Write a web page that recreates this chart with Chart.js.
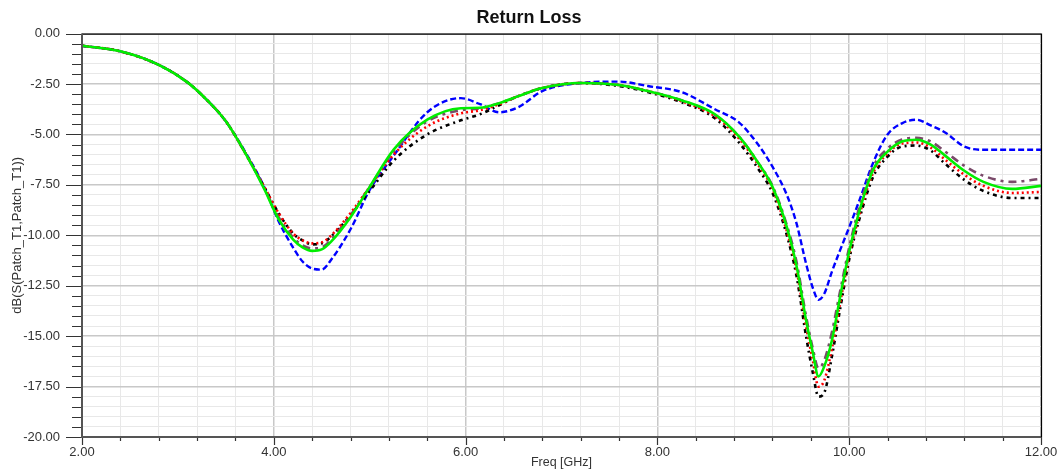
<!DOCTYPE html>
<html>
<head>
<meta charset="utf-8">
<script src="https://cdn.jsdelivr.net/npm/chart.js@4"></script>
<style>
  html, body { margin: 0; padding: 0; background: #fff; }
  #wrap { width: 1058px; height: 470px; }
</style>
</head>
<body>
<div id="wrap"><canvas id="chart" width="1058" height="470"></canvas></div>
<script>
// #### Data
const freq = [2.0, 2.4, 2.8, 3.1, 3.3, 3.5, 3.7, 3.9, 4.05, 4.2, 4.3, 4.4, 4.5, 4.6, 4.8, 5.0, 5.25, 5.6, 5.95, 6.15,
  6.35, 6.55, 6.8, 7.2, 7.6, 7.9, 8.25, 8.6, 8.85, 9.05, 9.2, 9.35, 9.45, 9.55, 9.62, 9.68, 9.74, 9.82, 9.9, 10.0,
  10.1, 10.25, 10.4, 10.55, 10.7, 10.85, 11.0, 11.2, 11.4, 11.7, 12.0];

const greenLoss = [-0.6, -0.88, -1.55, -2.42, -3.28, -4.35, -5.9, -7.7, -9.2, -10.2, -10.6, -10.77, -10.7, -10.3, -9.1, -7.6, -5.75, -4.27, -3.7, -3.68,
  -3.45, -3.1, -2.7, -2.45, -2.55, -2.85, -3.3, -4.0, -5.1, -6.4, -7.6, -9.6, -11.5, -14.2, -15.8, -17.0, -16.5, -15.2, -13.2, -10.8,
  -8.9, -6.75, -5.85, -5.35, -5.26, -5.5, -6.05, -6.8, -7.35, -7.7, -7.55];

const redLoss = [-0.6, -0.88, -1.55, -2.42, -3.28, -4.35, -5.9, -7.6, -8.9, -9.9, -10.25, -10.4, -10.35, -10.0, -8.9, -7.6, -6.0, -4.6, -3.95, -3.8,
  -3.5, -3.1, -2.7, -2.45, -2.55, -2.85, -3.35, -4.1, -5.2, -6.5, -7.7, -9.8, -11.7, -14.5, -16.2, -17.5, -17.2, -15.6, -13.5, -11.0,
  -9.1, -6.9, -5.95, -5.45, -5.4, -5.65, -6.25, -7.0, -7.55, -7.9, -7.85];

const purpleLoss = [-0.6, -0.88, -1.55, -2.42, -3.28, -4.35, -5.9, -7.65, -9.1, -10.1, -10.5, -10.65, -10.6, -10.2, -9.0, -7.6, -5.85, -4.35, -3.8, -3.7,
  -3.45, -3.1, -2.7, -2.45, -2.55, -2.85, -3.3, -4.05, -5.1, -6.4, -7.55, -9.5, -11.3, -14.0, -15.6, -16.6, -16.2, -14.8, -12.9, -10.6,
  -8.7, -6.6, -5.7, -5.25, -5.17, -5.35, -5.85, -6.55, -7.05, -7.35, -7.2];

const blackLoss = [-0.6, -0.88, -1.55, -2.42, -3.28, -4.35, -5.9, -7.6, -8.9, -9.9, -10.25, -10.45, -10.4, -10.05, -9.0, -7.8, -6.3, -5.0, -4.3, -4.0,
  -3.55, -3.1, -2.7, -2.45, -2.6, -2.9, -3.4, -4.2, -5.4, -6.7, -7.9, -10.0, -12.0, -15.0, -16.8, -18.0, -17.8, -16.0, -13.8, -11.2,
  -9.3, -7.1, -6.1, -5.6, -5.55, -5.8, -6.45, -7.25, -7.8, -8.15, -8.15];

const blueLoss = [-0.6, -0.88, -1.55, -2.42, -3.28, -4.35, -5.85, -7.6, -9.3, -10.6, -11.3, -11.65, -11.7, -11.2, -9.7, -7.75, -6.05, -3.9, -3.2, -3.5,
  -3.9, -3.65, -2.85, -2.45, -2.38, -2.6, -2.9, -3.75, -4.4, -5.5, -6.6, -8.0, -9.4, -11.4, -12.6, -13.2, -12.9, -11.8, -10.8, -9.6,
  -8.35, -6.4, -5.0, -4.45, -4.27, -4.55, -4.9, -5.6, -5.76, -5.76, -5.76];

const xMajor = 2;
const yMajor = 2.5;

function toPoints(values) {
    return freq.map((f, i) => ({ x: f, y: values[i] }));
}

function isMajor(v, step) {
    return Math.abs(v / step - Math.round(v / step)) < 1e-6;
}

// #### Plugins
const frameAndTicks = {
    id: 'frameAndTicks',
    afterDraw(chart) {
        const { ctx, chartArea: a, scales } = chart;
        ctx.save();
        // tick marks
        ctx.strokeStyle = '#333';
        ctx.lineWidth = 1.2;
        ctx.beginPath();
        scales.y.ticks.forEach(t => {
            const py = Math.round(scales.y.getPixelForValue(t.value)) + 0.5;
            const len = isMajor(t.value, yMajor) ? 16 : 10;
            ctx.moveTo(a.left - len, py);
            ctx.lineTo(a.left, py);
        });
        scales.x.ticks.forEach(t => {
            const px = Math.round(scales.x.getPixelForValue(t.value)) + 0.5;
            const len = isMajor(t.value, xMajor) ? 8 : 4;
            ctx.moveTo(px, a.bottom);
            ctx.lineTo(px, a.bottom + len);
        });
        ctx.stroke();
        // top / right border
        ctx.strokeStyle = '#000';
        ctx.lineWidth = 1.2;
        ctx.beginPath();
        ctx.moveTo(a.left, a.top + 0.5);
        ctx.lineTo(a.right + 0.5, a.top + 0.5);
        ctx.lineTo(a.right + 0.5, a.bottom);
        ctx.stroke();
        // left / bottom axis
        ctx.strokeStyle = '#555';
        ctx.lineWidth = 2;
        ctx.beginPath();
        ctx.moveTo(a.left, a.top);
        ctx.lineTo(a.left, a.bottom);
        ctx.lineTo(a.right, a.bottom);
        ctx.stroke();
        ctx.restore();
    }
};

// #### Chart
const tickFont = { family: 'Liberation Sans, Arial, sans-serif', size: 13 };

new Chart(document.getElementById('chart').getContext('2d'), {
    type: 'line',
    data: {
        datasets: [
            { label: 'green', data: toPoints(greenLoss), borderColor: '#00ee00', borderWidth: 2.6 },
            { label: 'red', data: toPoints(redLoss), borderColor: '#ff0000', borderWidth: 2.6, borderDash: [2, 3] },
            { label: 'purple', data: toPoints(purpleLoss), borderColor: '#7a4a6a', borderWidth: 2.6, borderDash: [8, 5, 3, 5] },
            { label: 'black', data: toPoints(blackLoss), borderColor: '#000000', borderWidth: 2.6, borderDash: [4, 4, 2, 4] },
            { label: 'blue', data: toPoints(blueLoss), borderColor: '#0000ff', borderWidth: 2.4, borderDash: [6, 3] }
        ]
    },
    options: {
        responsive: false,
        animation: false,
        devicePixelRatio: 1,
        layout: { padding: 0 },
        elements: {
            point: { radius: 0 },
            line: { cubicInterpolationMode: 'monotone', fill: false, borderCapStyle: 'butt' }
        },
        scales: {
            x: {
                type: 'linear',
                min: 2,
                max: 12,
                afterFit(scale) {
                    scale.height = 33;
                    scale.paddingLeft = 0;
                    scale.paddingRight = 17;
                },
                ticks: {
                    stepSize: 0.4,
                    autoSkip: false,
                    maxRotation: 0,
                    padding: 8,
                    color: '#333',
                    font: tickFont,
                    callback: v => isMajor(v, xMajor) ? v.toFixed(2) : ''
                },
                grid: {
                    drawTicks: false,
                    color: ctx => isMajor(ctx.tick.value, xMajor) ? '#c8c8c8' : '#e8e8e8',
                    lineWidth: ctx => isMajor(ctx.tick.value, xMajor) ? 1.5 : 1
                },
                border: { display: false },
                title: {
                    display: true,
                    text: 'Freq [GHz]',
                    color: '#333',
                    font: { family: 'Liberation Sans, Arial, sans-serif', size: 12.5 },
                    padding: { top: 0, bottom: 0 }
                }
            },
            y: {
                type: 'linear',
                min: -20,
                max: 0,
                afterFit(scale) { scale.width = 82; },
                ticks: {
                    stepSize: 0.5,
                    autoSkip: false,
                    padding: 22,
                    color: '#333',
                    font: tickFont,
                    callback: v => isMajor(v, yMajor) ? v.toFixed(2) : ''
                },
                grid: {
                    drawTicks: false,
                    color: ctx => isMajor(ctx.tick.value, yMajor) ? '#c8c8c8' : '#e8e8e8',
                    lineWidth: ctx => isMajor(ctx.tick.value, yMajor) ? 1.5 : 1
                },
                border: { display: false },
                title: {
                    display: true,
                    text: 'dB(S(Patch_T1,Patch_T1))',
                    color: '#333',
                    font: { family: 'Liberation Sans, Arial, sans-serif', size: 13 },
                    padding: { top: 10, bottom: 0 }
                }
            }
        },
        plugins: {
            legend: { display: false },
            tooltip: { enabled: false },
            title: {
                display: true,
                text: 'Return Loss',
                color: '#111',
                font: { family: 'Liberation Sans, Arial, sans-serif', size: 18, weight: 'bold' },
                padding: { top: 7, bottom: 5 }
            }
        }
    },
    plugins: [frameAndTicks]
});
</script>
</body>
</html>
